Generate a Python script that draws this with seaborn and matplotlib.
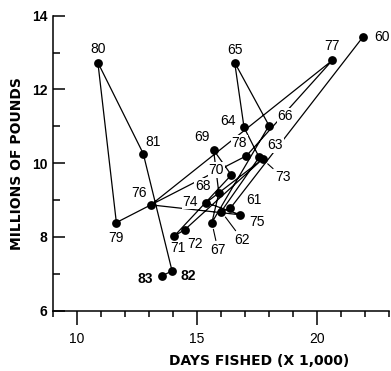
import matplotlib
matplotlib.use("Agg")
import matplotlib.pyplot as plt
import seaborn as sns
import pandas as pd

# Annual catch vs. fishing effort, 1960-1983
years = ["60", "61", "62", "63", "64", "65", "66", "67", "68", "69", "70", "71",
         "72", "73", "74", "75", "76", "77", "78", "79", "80", "81", "82", "83"]
days_fished = [21.91, 16.39, 16.01, 17.59, 16.96, 16.57, 18.00, 15.62, 15.91, 15.69,
               16.43, 14.06, 14.48, 17.73, 15.38, 16.81, 13.08, 20.64, 17.06, 11.64,
               10.87, 12.76, 13.96, 13.53]
million_lbs = [13.42, 8.78, 8.69, 10.16, 10.97, 12.73, 11.02, 8.39, 9.19, 10.36,
               9.68, 8.03, 8.19, 10.11, 8.93, 8.60, 8.87, 12.79, 10.20, 8.39,
               12.73, 10.26, 7.08, 6.94]

x_ticks = [10, 15, 20]
y_ticks = [6, 8, 10, 12, 14]

df = pd.DataFrame({"year": years, "days": days_fished, "lbs": million_lbs})

# label placement (pixel offsets from each point) and which labels get a leader line
label_offsets = {
    "60": (19, 0), "61": (24, 8), "62": (21, -28), "63": (16, 12), "64": (-16, 6),
    "65": (0, 13), "66": (16, 10), "67": (6, -27), "68": (-16, 7), "69": (-12, 13),
    "70": (-15, 5), "71": (3, -12), "72": (11, -14), "73": (20, -18), "74": (-16, 1),
    "75": (17, -7), "76": (-12, 12), "77": (0, 14), "78": (-7, 13), "79": (0, -15),
    "80": (0, 14), "81": (10, 12), "82": (16, -5), "83": (-16, -3),
}
leaders = {"62", "67", "73"}
bold_labels = {"82", "83"}

sns.set_style("ticks")
plt.rcParams["font.family"] = ["Liberation Sans", "DejaVu Sans"]
for key in ("text.color", "axes.labelcolor", "xtick.color", "ytick.color",
            "axes.edgecolor"):
    plt.rcParams[key] = "black"

fig = plt.figure(figsize=(3.91, 3.71), dpi=100)
ax = fig.add_axes([53 / 391, 1 - 310.7 / 371, 336 / 391, 295 / 371])

sns.lineplot(data=df, x="days", y="lbs", sort=False, estimator=None,
             color="black", linewidth=0.9, ax=ax, zorder=2)
sns.scatterplot(data=df, x="days", y="lbs", color="black", s=40,
                edgecolor="black", linewidth=0, ax=ax, zorder=4)

for yr, xv, yv in zip(years, days_fished, million_lbs):
    dx, dy = label_offsets[yr]
    kw = dict(textcoords="offset pixels", ha="center", va="center",
              fontsize=10, fontweight="bold" if yr in bold_labels else "normal",
              zorder=3,
              bbox=dict(boxstyle="square,pad=0.05", fc="white", ec="none"))
    if yr in leaders:
        kw["arrowprops"] = dict(arrowstyle="-", lw=0.8, color="black",
                                shrinkA=1, shrinkB=5)
    ax.annotate(yr, xy=(xv, yv), xytext=(dx, dy), **kw)

ax.set_xlim(9, 23)
ax.set_ylim(6, 14)
ax.set_xticks(x_ticks)
ax.set_xticks(range(9, 24), minor=True)
ax.set_yticks(y_ticks)
ax.set_yticks([7, 9, 11, 13], minor=True)

ax.tick_params(axis="x", which="major", direction="out", length=10, width=1.1,
               labelsize=10, pad=5)
ax.tick_params(axis="x", which="minor", direction="out", length=4, width=1.1)
ax.tick_params(axis="y", which="major", direction="in", length=8.5, width=1.1,
               labelsize=10, pad=4)
ax.tick_params(axis="y", which="minor", direction="in", length=5, width=1.1)
for lab in ax.get_yticklabels():
    lab.set_fontweight("bold")

sns.despine(ax=ax)
for side in ("left", "bottom"):
    ax.spines[side].set_linewidth(1.1)
    ax.spines[side].set_color("black")

# wide bold face for the axis titles
title_font = dict(fontsize=10, fontweight="bold", family="DejaVu Sans")
ax.set_xlabel("DAYS FISHED (X 1,000)", **title_font)
ax.set_ylabel("MILLIONS OF POUNDS", **title_font)
ax.xaxis.set_label_coords(0.613, -0.148)
ax.yaxis.set_label_coords(-0.085, 0.5)

fig.savefig("out.png", dpi=100)
